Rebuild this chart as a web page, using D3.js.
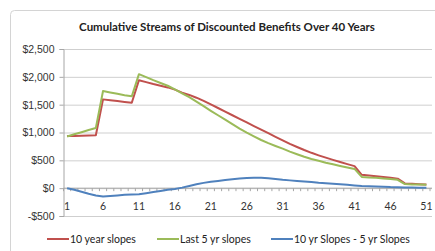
<!DOCTYPE html>
<html>
<head>
<meta charset="utf-8">
<script src="https://cdn.jsdelivr.net/npm/d3@7.9.0/dist/d3.min.js"></script>
<style>
  body { margin: 0; background: #fff; }
  svg { font-family: Lato, "Liberation Sans", sans-serif; }
  .grid line { stroke: #cfcfcf; }
  .grid .domain { display: none; }
  .axis text { fill: #333; font-size: 10.5px; }
</style>
</head>
<body>
<div id="chart"></div>
<script>
// categories 1..51
const years = d3.range(1, 52);

const tenYearSlopes = [
  935, 938, 941, 945, 950, 1595, 1580, 1565, 1550, 1535,
  1940, 1905, 1870, 1840, 1810, 1770, 1715, 1675, 1625, 1568,
  1505, 1440, 1375, 1310, 1245, 1180, 1115, 1050, 987, 923,
  860, 797, 740, 685, 635, 590, 548, 508, 470, 432,
  396, 240, 228, 215, 200, 185, 170, 85, 78, 72, 66
];

const lastFiveYrSlopes = [
  928, 968, 1006, 1045, 1080, 1745, 1720, 1695, 1670, 1650,
  2048, 1995, 1940, 1890, 1840, 1775, 1705, 1635, 1555, 1473,
  1390, 1310, 1230, 1150, 1070, 998, 930, 865, 809, 758,
  710, 657, 610, 565, 525, 492, 458, 428, 400, 372,
  346, 202, 192, 185, 175, 165, 150, 73, 68, 64, 60
];

const slopeDiff = [
  0, -30, -65, -100, -130, -150, -140, -130, -120, -115,
  -108, -90, -70, -50, -30, -15, 10, 40, 70, 95,
  115, 130, 145, 160, 175, 182, 185, 185, 178, 165,
  150, 140, 130, 120, 110, 98, 90, 80, 70, 60,
  50, 38, 35, 30, 25, 20, 18, 12, 10, 8, 6
];

const yTicks = [-500, 0, 500, 1000, 1500, 2000, 2500];
const xLabels = [1, 6, 11, 16, 21, 26, 31, 36, 41, 46, 51];

const series = [
  { name: "10 year slopes", color: "#c0504d", values: tenYearSlopes },
  { name: "Last 5 yr slopes", color: "#9bbb59", values: lastFiveYrSlopes },
  { name: "10 yr Slopes - 5 yr Slopes", color: "#4f81bd", values: slopeDiff }
];

const width = 435, height = 251;
const plot = { left: 63.5, right: 430, top: 49, bottom: 216 };

const svg = d3.select("#chart").append("svg")
  .attr("width", width)
  .attr("height", height);

// chart frame
svg.append("rect")
  .attr("x", 10.5).attr("y", 10.5)
  .attr("width", 440).attr("height", 260)
  .attr("rx", 4)
  .attr("fill", "none")
  .attr("stroke", "#d4d4d4");

const x = d3.scaleLinear().domain([0.5, 51.5]).range([plot.left, plot.right]);
const y = d3.scaleLinear().domain([-500, 2500]).range([plot.bottom, plot.top]);

const money = v => (v < 0 ? "-$" : "$") + d3.format(",")(Math.abs(v));

// horizontal grid
svg.append("g")
  .attr("class", "grid")
  .attr("transform", `translate(${plot.left},0)`)
  .call(d3.axisLeft(y).tickValues(yTicks).tickSize(-(plot.right + 2 - plot.left)).tickFormat(""));

// y axis
const yAxis = svg.append("g")
  .attr("class", "axis")
  .attr("transform", `translate(${plot.left},0)`)
  .call(d3.axisLeft(y).tickValues(yTicks).tickSize(4).tickPadding(5).tickFormat(money));
yAxis.select(".domain").attr("stroke", "#a6a6a6");
yAxis.selectAll(".tick line").attr("stroke", "#a6a6a6");

// x axis at $0, minor ticks between categories
const xAxis = svg.append("g")
  .attr("class", "axis")
  .attr("transform", `translate(0,${y(0)})`);
xAxis.append("line")
  .attr("x1", plot.left).attr("x2", plot.right + 2)
  .attr("stroke", "#a6a6a6");
xAxis.selectAll(".minor")
  .data(d3.range(0.5, 52, 1))
  .join("line")
  .attr("class", "minor")
  .attr("x1", d => x(d)).attr("x2", d => x(d))
  .attr("y1", 0).attr("y2", 3)
  .attr("stroke", "#a6a6a6");
xAxis.selectAll("text")
  .data(xLabels)
  .join("text")
  .attr("x", d => x(d))
  .attr("y", 22)
  .attr("text-anchor", "middle")
  .text(d => d);

// lines
const line = d3.line()
  .x((d, i) => x(years[i]))
  .y(d => y(d));

svg.selectAll(".series")
  .data(series)
  .join("path")
  .attr("class", "series")
  .attr("fill", "none")
  .attr("stroke", d => d.color)
  .attr("stroke-width", 2)
  .attr("stroke-linejoin", "round")
  .attr("d", d => line(d.values));

// title
svg.append("text")
  .attr("x", 227)
  .attr("y", 31)
  .attr("text-anchor", "middle")
  .style("font-size", "11.5px")
  .style("font-weight", "bold")
  .attr("fill", "#222")
  .text("Cumulative Streams of Discounted Benefits Over 40 Years");

// legend
const legendPos = [47, 157, 271];
const legend = svg.append("g").attr("transform", "translate(0,239)");
const item = legend.selectAll("g")
  .data(series)
  .join("g")
  .attr("transform", (d, i) => `translate(${legendPos[i]},0)`);
item.append("line")
  .attr("x1", 0).attr("x2", 22)
  .attr("stroke", d => d.color)
  .attr("stroke-width", 2);
item.append("text")
  .attr("x", 23)
  .attr("dy", "0.35em")
  .style("font-size", "10.5px")
  .attr("fill", "#222")
  .text(d => d.name);
</script>
</body>
</html>
